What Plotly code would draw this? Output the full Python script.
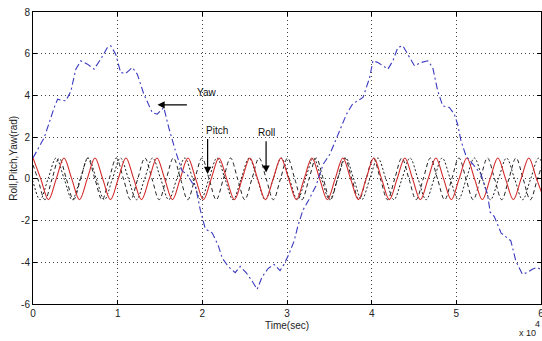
import plotly.graph_objects as go

# ---- Data ----
# Yaw (blue dash-dot): time in seconds, angle in rad
yaw_t = [0, 1329, 2506, 2906, 3294, 3882, 4471, 5059, 5647, 6435, 7212, 8000, 8788, 9176,
         9765, 10353, 10941, 11729, 12318, 13094, 14082, 14671, 15447, 16035, 16824, 17612,
         18200, 18788, 19176, 19765, 20353, 21176, 21882, 22353, 23059, 23882, 24471, 25176,
         25882, 26471, 27059, 27765, 28471, 29176, 29647, 30235, 30824, 31294, 31882, 32588,
         33412, 34271, 35059, 35847, 37024, 37765, 38976, 39765, 40153, 40741, 41329, 41918,
         42506, 43094, 43682, 44271, 45059, 45847, 46624, 47212, 47800, 48388, 49176, 49765,
         50153, 50553, 51141, 52118, 52906, 53682, 54000, 54471, 55294, 56435, 57024, 57800,
         58388, 58976, 59529, 60000]
yaw_v = [1.0, 1.98, 3.42, 3.82, 3.77, 3.74, 4.2, 5.26, 5.66, 5.5, 5.26, 5.74, 6.3, 6.38,
         5.98, 5.1, 5.05, 5.34, 5.02, 4.06, 3.18, 3.10, 3.42, 2.46, 1.34, 0.38,
         0.22, -0.18, -0.3, -1.5, -2.4, -2.6, -3.2, -3.8, -4.2, -4.5, -4.2, -4.5,
         -4.9, -5.3, -4.7, -4.3, -4.1, -4.4, -4.1, -3.6, -3.0, -2.25, -1.5, -1.0,
         -0.34, 0.7, 1.18, 1.98, 3.1, 3.6, 3.9, 4.86, 5.66, 5.58, 5.42, 5.26,
         5.66, 6.3, 6.38, 5.98, 5.42, 5.58, 5.66, 5.34, 4.22, 3.5, 3.42, 3.1,
         2.62, 1.82, 1.1, 0.62, 0.22, -0.74, -1.6, -1.8, -2.6, -2.97, -3.93, -4.57,
         -4.49, -4.33, -4.25, -4.35]

# Red solid oscillation: values at quarter-period samples (start 0 s, step 915 s)
red_start, red_step = 0, 915
red_v = [1, 0, -1, 0, 1, 0, -1, 0, 1, 0, -1, 0, 1, 0, -1, 0,
         1, 0, -1, 0, 1, 0, -1, 0, 1, 0, -1, 0, 1, 0, -1, 0,
         1, 0, -1, 0, 1, 0, -1, 0, 1, 0, -1, 0, 1, 0, -1, 0,
         1, 0, -1, 0, 1, 0, -1, 0, 1, 0, -1, 0, 1, 0, -1, 0,
         1, 0, -1]

# Black dashed oscillation (pitch): quarter-period samples (start -275 s, step 843 s)
pitch_start, pitch_step = -275, 843
pitch_v = [1, 0, -1, 0, 1, 0, -1, 0, 1, 0, -1, 0, 1, 0, -1, 0,
           1, 0, -1, 0, 1, 0, -1, 0, 1, 0, -1, 0, 1, 0, -1, 0,
           1, 0, -1, 0, 1, 0, -1, 0, 1, 0, -1, 0, 1, 0, -1, 0,
           1, 0, -1, 0, 1, 0, -1, 0, 1, 0, -1, 0, 1, 0, -1, 0,
           1, 0, -1, 0, 1, 0, -1, 0, 1]

# Black dotted oscillation (roll): quarter-period samples (start -1071 s, step 950 s)
roll_start, roll_step = -1071, 950
roll_v = [1, 0, -1, 0, 1, 0, -1, 0, 1, 0, -1, 0, 1, 0, -1, 0,
          1, 0, -1, 0, 1, 0, -1, 0, 1, 0, -1, 0, 1, 0, -1, 0,
          1, 0, -1, 0, 1, 0, -1, 0, 1, 0, -1, 0, 1, 0, -1, 0,
          1, 0, -1, 0, 1, 0, -1, 0, 1, 0, -1, 0, 1, 0, -1, 0,
          1, 0]

x_tickvals = [0, 10000, 20000, 30000, 40000, 50000, 60000]
x_ticktext = ["0", "1", "2", "3", "4", "5", "6"]
y_tickvals = [-6, -4, -2, 0, 2, 4, 6, 8]
y_ticktext = ["-6", "-4", "-2", "0", "2", "4", "6", "8"]

FONT = "Liberation Sans, Arial, sans-serif"
TXT = "#222222"

fig = go.Figure()
fig.add_trace(go.Scatter(y=roll_v, x0=roll_start, dx=roll_step, mode="lines",
                         line=dict(color="#222222", width=1, dash="2px,2px", shape="spline"),
                         name="Roll"))
fig.add_trace(go.Scatter(y=pitch_v, x0=pitch_start, dx=pitch_step, mode="lines",
                         line=dict(color="#222222", width=1, dash="4px,3px", shape="spline"),
                         name="Pitch"))
fig.add_trace(go.Scatter(y=red_v, x0=red_start, dx=red_step, mode="lines",
                         line=dict(color="#d42a2a", width=1.1, shape="spline"),
                         name="ref"))
fig.add_trace(go.Scatter(x=yaw_t, y=yaw_v, mode="lines",
                         line=dict(color="#3a3ac0", width=1.1, dash="7px,3px,2px,3px"),
                         name="Yaw"))

axis_common = dict(showline=True, linecolor="black", linewidth=1, mirror="ticks",
                   ticks="inside", ticklen=4, tickcolor="black",
                   showgrid=True, gridcolor="#444444", gridwidth=1, griddash="1px,3px",
                   zeroline=False, automargin=False, ticklabeloverflow="allow",
                   tickfont=dict(family=FONT, size=10, color=TXT))

fig.update_xaxes(range=[0, 60000], tickvals=x_tickvals, ticktext=x_ticktext, **axis_common)
fig.update_yaxes(range=[-6, 8], tickvals=y_tickvals, ticktext=y_ticktext, **axis_common)

ann_font = dict(family=FONT, size=10, color="#111111")
annotations = [
    # Yaw arrow and label
    dict(x=14706, y=3.55, ax=18353, ay=3.55, xref="x", yref="y", axref="x", ayref="y",
         text="", showarrow=True, arrowhead=2, arrowsize=1.2, arrowwidth=1.2, arrowcolor="black"),
    dict(x=20470, y=4.12, xref="x", yref="y", text="Yaw", showarrow=False, font=ann_font),
    # Pitch arrow and label
    dict(x=20624, y=0.23, ax=20624, ay=1.98, xref="x", yref="y", axref="x", ayref="y",
         text="", showarrow=True, arrowhead=2, arrowsize=1.2, arrowwidth=1.2, arrowcolor="black"),
    dict(x=21730, y=2.33, xref="x", yref="y", text="Pitch", showarrow=False, font=ann_font),
    # Roll arrow and label
    dict(x=27530, y=0.30, ax=27530, ay=1.87, xref="x", yref="y", axref="x", ayref="y",
         text="", showarrow=True, arrowhead=2, arrowsize=1.2, arrowwidth=1.2, arrowcolor="black"),
    dict(x=27530, y=2.22, xref="x", yref="y", text="Roll", showarrow=False, font=ann_font),
    # axis titles
    dict(x=0.5, y=-0.075, xref="paper", yref="paper", xanchor="center", yanchor="middle",
         text="Time(sec)", showarrow=False, font=dict(family=FONT, size=10, color=TXT)),
    dict(x=-0.04, y=0.5, xref="paper", yref="paper", xanchor="center", yanchor="middle",
         text="Roll,Pitch,Yaw(rad)", textangle=-90, showarrow=False,
         font=dict(family=FONT, size=10, color=TXT)),
    # axis multiplier
    dict(x=0.974, y=-0.10, xref="paper", yref="paper", xanchor="center", yanchor="middle",
         text="x 10", showarrow=False, font=dict(family=FONT, size=9, color=TXT)),
    dict(x=0.994, y=-0.07, xref="paper", yref="paper", xanchor="center", yanchor="middle",
         text="4", showarrow=False, font=dict(family=FONT, size=9, color=TXT)),
]

fig.update_layout(
    width=542, height=341,
    margin=dict(l=33, r=1, t=12, b=37),
    paper_bgcolor="white", plot_bgcolor="white",
    showlegend=False,
    annotations=annotations,
)

# remove the page body's default margin so the figure fills the window exactly
fig.write_html("out.html",
               config={"displayModeBar": False},
               post_script="document.body.style.margin='0';document.body.style.overflow='hidden';")
